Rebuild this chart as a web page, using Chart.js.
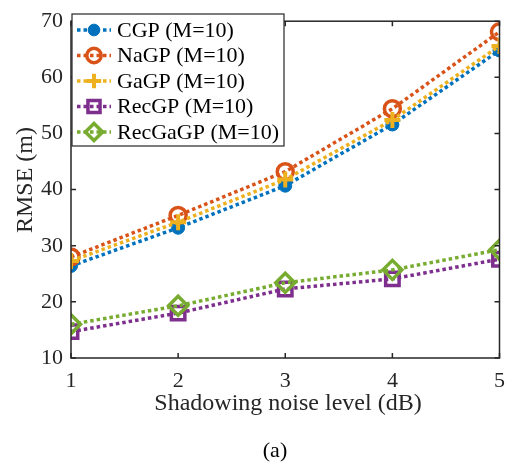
<!DOCTYPE html>
<html>
<head>
<meta charset="utf-8">
<script src="https://cdn.jsdelivr.net/npm/chart.js@4.4.1/dist/chart.umd.min.js"></script>
<style>
  html, body { margin: 0; padding: 0; background: #fff; }
  #wrap { width: 515px; height: 464px; position: relative; }
</style>
</head>
<body>
<div id="wrap"><canvas id="rmse"></canvas></div>
<script>
// values
const noiseLevels = [1, 2, 3, 4, 5];
const yTicks = [10, 20, 30, 40, 50, 60, 70];
const seriesNames = ['CGP (M=10)', 'NaGP (M=10)', 'GaGP (M=10)', 'RecGP (M=10)', 'RecGaGP (M=10)'];
const cgp = [26.4, 33.2, 40.7, 51.6, 64.8];
const nagp = [28.0, 35.4, 43.2, 54.4, 68.1];
const gagp = [27.3, 34.2, 41.8, 52.4, 65.6];
const recgp = [14.7, 18.0, 22.3, 24.1, 27.6];
const recgagp = [16.0, 19.3, 23.4, 25.7, 29.3];

const SERIF = "'Liberation Serif', 'DejaVu Serif', serif";
const AXIS_COLOR = '#262626';
const DOTS = [3.5, 3];

// MATLAB default colours / marker styles
const looks = [
  { color: '#0072BD', style: 'circle', radius: 6.5, fill: '#0072BD', bw: 1 },
  { color: '#D95319', style: 'circle', radius: 8, fill: 'rgba(0,0,0,0)', bw: 3.5 },
  { color: '#EDB120', style: 'cross', radius: 8, fill: 'rgba(0,0,0,0)', bw: 4 },
  { color: '#7E2F8E', style: 'rect', radius: 9.5, fill: 'rgba(0,0,0,0)', bw: 3.5 },
  { color: '#77AC30', style: 'rectRot', radius: 9.5, fill: 'rgba(0,0,0,0)', bw: 3.5 }
];
const allValues = [cgp, nagp, gagp, recgp, recgagp];

const datasets = allValues.map((vals, i) => ({
  label: seriesNames[i],
  data: vals.map((v, k) => ({ x: noiseLevels[k], y: v })),
  borderColor: looks[i].color,
  backgroundColor: looks[i].color,
  borderWidth: 3.5,
  borderDash: DOTS,
  pointStyle: looks[i].style,
  pointRadius: looks[i].radius,
  pointBorderWidth: looks[i].bw,
  pointBorderColor: looks[i].color,
  pointBackgroundColor: looks[i].fill,
  fill: false,
  tension: 0,
  order: allValues.length - i
}));

// box, inward ticks, titles, caption and legend
const decor = {
  id: 'decor',
  afterDraw(chart) {
    const ctx = chart.ctx;
    const { left, right, top, bottom } = chart.chartArea;
    const xs = chart.scales.x, ys = chart.scales.y;
    ctx.save();
    ctx.strokeStyle = AXIS_COLOR;
    ctx.lineWidth = 1.5;
    ctx.setLineDash([]);
    ctx.strokeRect(left, top, right - left, bottom - top);
    ctx.beginPath();
    noiseLevels.forEach(v => {
      const px = xs.getPixelForValue(v);
      ctx.moveTo(px, bottom); ctx.lineTo(px, bottom - 5);
      ctx.moveTo(px, top); ctx.lineTo(px, top + 5);
    });
    yTicks.forEach(v => {
      const py = ys.getPixelForValue(v);
      ctx.moveTo(left, py); ctx.lineTo(left + 5, py);
      ctx.moveTo(right, py); ctx.lineTo(right - 5, py);
    });
    ctx.stroke();

    // axis titles and caption
    ctx.fillStyle = '#262626';
    ctx.font = '24px ' + SERIF;
    ctx.textAlign = 'center';
    ctx.textBaseline = 'middle';
    ctx.fillText('Shadowing noise level (dB)', 288, 404);
    ctx.save();
    ctx.translate(26, 180);
    ctx.rotate(-Math.PI / 2);
    ctx.fillText('RMSE (m)', 0, 0);
    ctx.restore();
    ctx.fillStyle = '#000';
    ctx.font = '22px ' + SERIF;
    ctx.fillText('(a)', 275, 451);

    // legend
    const lx = 72, ly = 14, lw = 212, lh = 132;
    ctx.fillStyle = '#fff';
    ctx.fillRect(lx, ly, lw, lh);
    ctx.strokeStyle = AXIS_COLOR;
    ctx.lineWidth = 1.2;
    ctx.strokeRect(lx, ly, lw, lh);
    seriesNames.forEach((name, i) => {
      const y = 30 + i * 25.5;
      const lk = looks[i];
      ctx.strokeStyle = lk.color;
      ctx.lineWidth = 3.5;
      ctx.setLineDash(DOTS);
      ctx.beginPath();
      ctx.moveTo(77, y); ctx.lineTo(111, y);
      ctx.stroke();
      ctx.setLineDash([]);
      ctx.fillStyle = lk.fill;
      ctx.lineWidth = lk.bw;
      Chart.helpers.drawPoint(ctx, { pointStyle: lk.style, radius: lk.radius * 0.9, rotation: 0, borderWidth: lk.bw }, 94, y);
      ctx.fillStyle = '#000';
      ctx.font = '22px ' + SERIF;
      ctx.textAlign = 'left';
      ctx.textBaseline = 'middle';
      ctx.fillText(name, 117, y + 1);
    });
    ctx.restore();
  }
};

new Chart(document.getElementById('rmse').getContext('2d'), {
  type: 'line',
  data: { datasets: datasets },
  plugins: [decor],
  options: {
    responsive: true,
    maintainAspectRatio: false,
    animation: false,
    layout: { padding: { top: 12, right: 14, left: 0, bottom: 0 } },
    plugins: { legend: { display: false }, tooltip: { enabled: false } },
    scales: {
      x: {
        type: 'linear',
        min: 1,
        max: 5,
        afterFit: s => { s.height = 106; },
        afterBuildTicks: s => { s.ticks = noiseLevels.map(v => ({ value: v })); },
        ticks: { color: '#262626', padding: 10, font: { family: SERIF, size: 22 } },
        grid: { display: false, drawTicks: false },
        border: { display: false }
      },
      y: {
        type: 'linear',
        min: 10,
        max: 70,
        afterFit: s => { s.width = 71; },
        afterBuildTicks: s => { s.ticks = yTicks.map(v => ({ value: v })); },
        ticks: { color: '#262626', padding: 8, font: { family: SERIF, size: 22 } },
        grid: { display: false, drawTicks: false },
        border: { display: false }
      }
    }
  }
});
</script>
</body>
</html>
